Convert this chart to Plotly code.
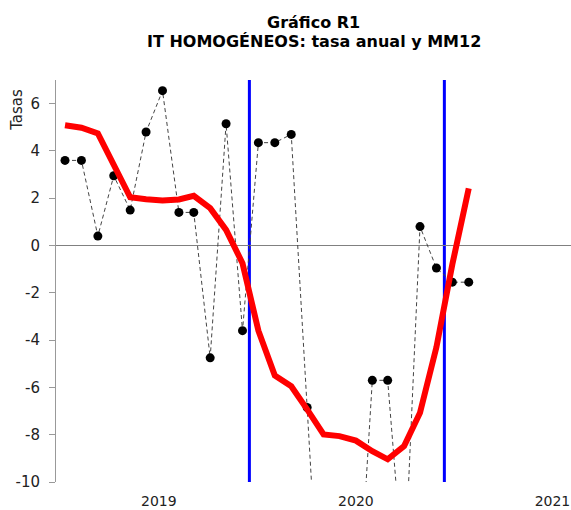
import pandas as pd
import plotly.graph_objects as go

# ---- data ----
months = pd.date_range("2018-07-01", periods=26, freq="MS")
tasa_anual = [3.6, 3.6, 0.4, 2.95, 1.5, 4.8, 6.55, 1.4, 1.4, -4.75, 5.15, -3.6,
              4.35, 4.35, 4.7, -6.85, -18.8, -20.0, -17.1, -5.7, -5.7, -14.3,
              0.8, -0.95, -1.55, -1.55]
mm12 = [5.09, 4.98, 4.74, 3.35, 2.04, 1.96, 1.90, 1.95, 2.1, 1.58, 0.66, -0.75,
        -3.6, -5.5, -5.95, -6.93, -7.99, -8.06, -8.25, -8.7, -9.04, -8.48,
        -7.07, -4.3, -0.8, 2.42]
event_dates = ["2019-06-14", "2020-06-16"]
year_ticks = ["2018-12-25", "2020-01-01", "2021-01-06"]
year_labels = ["2019", "2020", "2021"]
y_ticks = [-10, -8, -6, -4, -2, 0, 2, 4, 6]
y_labels = [str(v) for v in y_ticks]

FONT = "DejaVu Sans"

fig = go.Figure()
fig.add_trace(go.Scatter(
    x=months, y=tasa_anual, mode="lines+markers", name="tasa anual",
    line=dict(color="#444444", width=1, dash="4px,3px"),
    marker=dict(color="black", size=9),
))
fig.add_trace(go.Scatter(
    x=months, y=mm12, mode="lines", name="MM12",
    line=dict(color="#ff0000", width=6),
))

for d in event_dates:
    fig.add_shape(type="line", xref="x", yref="paper", x0=d, x1=d, y0=0, y1=1,
                  line=dict(color="#0000ff", width=3), layer="below")

fig.add_annotation(text="<b>Gráfico R1</b>", xref="paper", yref="paper",
                   x=0.5, y=1.143, yanchor="middle", showarrow=False,
                   font=dict(family=FONT, size=16, color="black"))
fig.add_annotation(text="<b>IT HOMOGÉNEOS: tasa anual y MM12</b>", xref="paper", yref="paper",
                   x=0.5, y=1.097, yanchor="middle", showarrow=False,
                   font=dict(family=FONT, size=16, color="black"))
fig.add_annotation(text="Tasas", xref="paper", yref="paper", x=-0.0763, y=0.925,
                   xanchor="center", yanchor="middle", textangle=-90, showarrow=False,
                   font=dict(family=FONT, size=15, color="#222222"))

fig.update_layout(
    width=571, height=510,
    margin=dict(l=56, r=0, t=80, b=28),
    paper_bgcolor="white", plot_bgcolor="white",
    showlegend=False,
    font=dict(family=FONT, size=15, color="#222222"),
    xaxis=dict(range=["2018-06-14", "2021-02-10"], showgrid=False, zeroline=False,
               showline=False, ticks="", tickvals=year_ticks, ticktext=year_labels,
               automargin=False, ticklabelstandoff=9,
               tickfont=dict(family=FONT, size=14, color="#222222")),
    yaxis=dict(range=[-10, 7], showgrid=False, zeroline=True, zerolinecolor="#808080",
               zerolinewidth=1, showline=True, linecolor="#999999", linewidth=1,
               ticks="outside", ticklen=6, tickcolor="#999999",
               tickvals=y_ticks, ticktext=y_labels, automargin=False,
               ticklabelstandoff=6,
               tickfont=dict(family=FONT, size=15, color="#222222")),
)

fig.write_html(
    "out.html",
    config={"displayModeBar": False},
    post_script="document.body.style.margin='0';document.body.style.overflow='hidden';",
)
